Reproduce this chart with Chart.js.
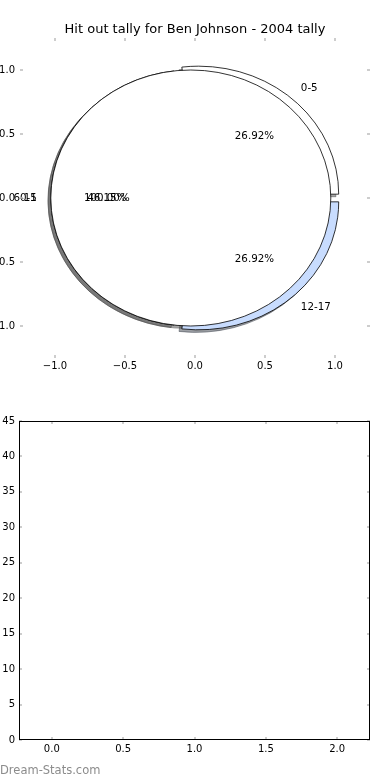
<!DOCTYPE html>
<html>
<head>
<meta charset="utf-8">
<script src="https://cdn.jsdelivr.net/npm/chart.js@4.4.0/dist/chart.umd.min.js"></script>
<style>
  html, body { margin: 0; padding: 0; background: #fff; }
  #wrap { position: relative; width: 390px; height: 780px; overflow: hidden; }
  #pieBox { position: absolute; left: 0; top: 0; width: 390px; height: 390px; }
  #barBox { position: absolute; left: 0; top: 390px; width: 390px; height: 390px; }
  #mark { position: absolute; left: 0; top: 763px; font: 11.5px "DejaVu Sans"; color: #8c8c8c; }
</style>
</head>
<body>
<div id="wrap">
  <div id="pieBox"><canvas id="pieChart" width="390" height="390"></canvas></div>
  <div id="barBox"><canvas id="barChart" width="390" height="390"></canvas></div>
  <div id="mark">Dream-Stats.com</div>
</div>
<script>
// chart data
var chartTitle = 'Hit out tally for Ben Johnson - 2004 tally';
var pieLabels = ['0-5', '6-11', '12-17'];
var pieValues = [7, 12, 7];
var pieColors = ['#ffffff', '#ffffff', '#c8dcfe'];
var pieExplode = [0.04, 0.03, 0.04];
// second pie drawn over the first one (single full wedge)
var overLabels = ['0-5'];
var overValues = [26];
var overColors = ['#ffffff'];
var overExplode = [0.03];
var pieTicks = [-1, -0.5, 0, 0.5, 1];

var barCategories = [];
var barValues = [];
var barXTicks = [0, 0.5, 1, 1.5, 2];
var barYTicks = [0, 5, 10, 15, 20, 25, 30, 35, 40, 45];

var FONT = 'DejaVu Sans';

function fmtTick(v) {
    var s = Math.abs(v).toFixed(1);
    return v < 0 ? '\u2212' + s : s;
}
function fmtInt(v) { return String(v); }

function shadowOf(hex) {
    var r = parseInt(hex.substr(1, 2), 16), g = parseInt(hex.substr(3, 2), 16), b = parseInt(hex.substr(5, 2), 16);
    return 'rgba(' + Math.round(r * 0.3) + ',' + Math.round(g * 0.3) + ',' + Math.round(b * 0.3) + ',0.5)';
}

var piePlugin = {
    id: 'pies',
    afterDatasetsDraw: function (chart) {
        var ctx = chart.ctx, xs = chart.scales.x, ys = chart.scales.y;
        var rx = xs.getPixelForValue(1) - xs.getPixelForValue(0);
        var ry = ys.getPixelForValue(0) - ys.getPixelForValue(1);
        var pies = [
            { labels: pieLabels, values: pieValues, colors: pieColors, explode: pieExplode },
            { labels: overLabels, values: overValues, colors: overColors, explode: overExplode }
        ];
        var wedges = [];
        pies.forEach(function (p) {
            var total = p.values.reduce(function (a, b) { return a + b; }, 0);
            var a = 0;
            p.values.forEach(function (v, i) {
                var t1 = a, t2 = a + 360 * v / total;
                a = t2;
                var mid = (t1 + t2) / 2 * Math.PI / 180;
                wedges.push({
                    cx: p.explode[i] * Math.cos(mid), cy: p.explode[i] * Math.sin(mid),
                    t1: t1, t2: t2, mid: mid, color: p.colors[i], label: p.labels[i],
                    pct: (v / total * 100).toFixed(2) + '%'
                });
            });
        });
        function path(w, ox, oy) {
            var px = xs.getPixelForValue(w.cx + ox), py = ys.getPixelForValue(w.cy + oy);
            ctx.beginPath();
            if (w.t2 - w.t1 >= 359.999) {
                ctx.ellipse(px, py, rx, ry, 0, 0, Math.PI * 2);
            } else {
                ctx.moveTo(px, py);
                ctx.ellipse(px, py, rx, ry, 0, -w.t1 * Math.PI / 180, -w.t2 * Math.PI / 180, true);
                ctx.closePath();
            }
        }
        ctx.save();
        // shadows first, under every wedge
        wedges.forEach(function (w) {
            path(w, -0.02, -0.02);
            ctx.fillStyle = shadowOf(w.color);
            ctx.strokeStyle = shadowOf(w.color);
            ctx.lineWidth = 1;
            ctx.fill();
            ctx.stroke();
        });
        wedges.forEach(function (w) {
            path(w, 0, 0);
            ctx.fillStyle = w.color;
            ctx.fill();
            ctx.strokeStyle = '#000';
            ctx.lineWidth = 0.8;
            ctx.stroke();
        });
        ctx.fillStyle = '#000';
        ctx.font = '10.3px "' + FONT + '"';
        ctx.textBaseline = 'middle';
        wedges.forEach(function (w) {
            var lx = w.cx + 1.1 * Math.cos(w.mid), ly = w.cy + 1.1 * Math.sin(w.mid);
            ctx.textAlign = lx > 0 ? 'left' : 'right';
            ctx.fillText(w.label, xs.getPixelForValue(lx), ys.getPixelForValue(ly));
            var tx = w.cx + 0.6 * Math.cos(w.mid), ty = w.cy + 0.6 * Math.sin(w.mid);
            ctx.textAlign = 'center';
            ctx.fillText(w.pct, xs.getPixelForValue(tx), ys.getPixelForValue(ty));
        });
        ctx.restore();
    }
};

var frameTicks = {
    id: 'frameTicks',
    afterDraw: function (chart, args, opts) {
        var a = chart.chartArea, ctx = chart.ctx, xs = chart.scales.x, ys = chart.scales.y;
        ctx.save();
        ctx.strokeStyle = '#bdbdbd';
        ctx.lineWidth = 1.5;
        ctx.beginPath();
        xs.ticks.forEach(function (t) {
            var px = Math.round(xs.getPixelForValue(t.value));
            ctx.moveTo(px, a.top); ctx.lineTo(px, a.top + 3);
            ctx.moveTo(px, a.bottom); ctx.lineTo(px, a.bottom - 3);
        });
        ys.ticks.forEach(function (t) {
            var py = Math.round(ys.getPixelForValue(t.value));
            ctx.moveTo(a.left, py); ctx.lineTo(a.left + 3, py);
            ctx.moveTo(a.right, py); ctx.lineTo(a.right - 3, py);
        });
        ctx.stroke();
        if (opts && opts.frame) {
            ctx.strokeStyle = '#000';
            ctx.lineWidth = 1;
            ctx.strokeRect(a.left + 0.5, a.top + 0.5, a.right - a.left - 1, a.bottom - a.top - 1);
        }
        ctx.restore();
    }
};

function axis(min, max, ticks, fmt, pos, size, pad) {
    return {
        type: 'linear', position: pos, min: min, max: max, offset: false,
        grid: { display: false, drawTicks: false, offset: false },
        border: { display: false },
        afterBuildTicks: function (s) { s.ticks = ticks.map(function (v) { return { value: v }; }); },
        afterFit: function (s) { if (pos === 'bottom') s.height = size; else s.width = size; },
        ticks: {
            padding: pad, color: '#000', autoSkip: false, maxRotation: 0,
            font: { family: FONT, size: 10 },
            callback: function (v) { return fmt(v); }
        }
    };
}

// empty right-hand axis that only keeps space, so the title stays centred on the page
var rightSpacer = axis(-1.25, 1.25, pieTicks, fmtTick, 'right', 20, 0);
rightSpacer.ticks.display = false;

new Chart(document.getElementById('pieChart'), {
    type: 'scatter',
    data: { datasets: [{ data: [] }] },
    options: {
        responsive: false, animation: false, events: [],
        layout: { padding: { left: 0, right: 0, top: 0, bottom: 0 } },
        plugins: {
            legend: { display: false }, tooltip: { enabled: false },
            title: {
                display: true, text: chartTitle, color: '#000',
                font: { family: FONT, size: 13, weight: 'normal' },
                padding: { top: 21.9, bottom: 0.5 }
            },
            frameTicks: { frame: false }
        },
        scales: {
            x: axis(-1.25, 1.25, pieTicks, fmtTick, 'bottom', 32, 2),
            y: axis(-1.25, 1.25, pieTicks, fmtTick, 'left', 20, 5),
            y2: rightSpacer
        }
    },
    plugins: [piePlugin, frameTicks]
});

new Chart(document.getElementById('barChart'), {
    type: 'bar',
    data: {
        labels: barCategories,
        datasets: [{ data: barValues, backgroundColor: '#c8dcfe', borderColor: '#000', borderWidth: 1 }]
    },
    options: {
        responsive: false, animation: false, events: [],
        layout: { padding: { left: 0, right: 20, top: 31, bottom: 0 } },
        plugins: { legend: { display: false }, tooltip: { enabled: false }, frameTicks: { frame: true } },
        scales: {
            x: axis(-0.23, 2.23, barXTicks, fmtTick, 'bottom', 40, 3),
            y: axis(0, 45, barYTicks, fmtInt, 'left', 19, 4)
        }
    },
    plugins: [frameTicks]
});
</script>
</body>
</html>
